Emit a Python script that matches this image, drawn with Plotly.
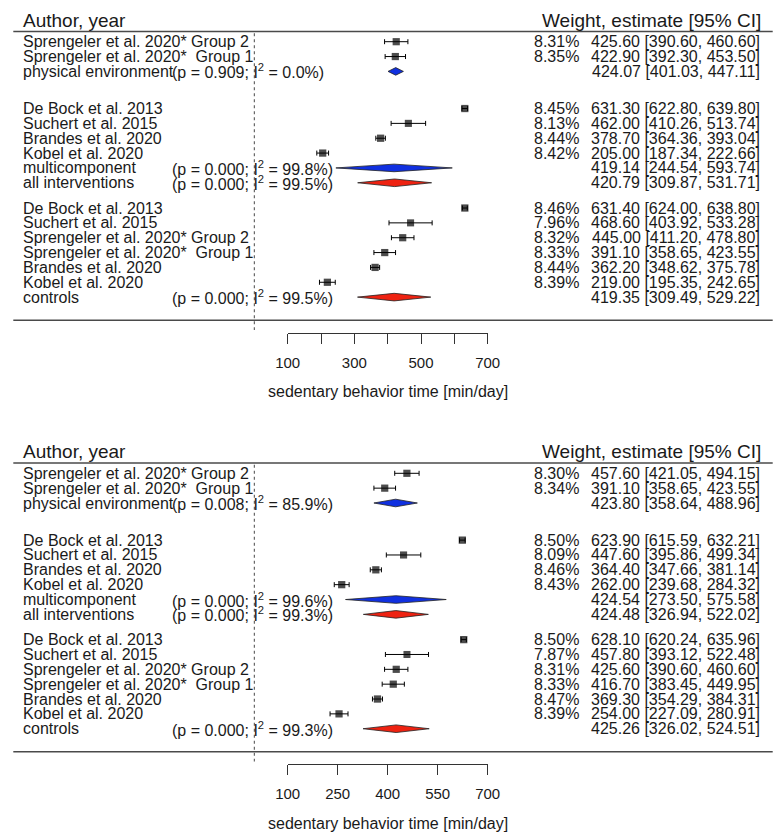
import plotly.graph_objects as go

W, H = 782, 838

# ---------------- data ----------------
labels_phys = ["Sprengeler et al. 2020* Group 2", "Sprengeler et al. 2020*\u00a0 Group 1"]
labels_multi = ["De Bock et al. 2013", "Suchert et al. 2015", "Brandes et al. 2020", "Kobel et al. 2020"]
labels_ctrl = ["De Bock et al. 2013", "Suchert et al. 2015", "Sprengeler et al. 2020* Group 2",
               "Sprengeler et al. 2020*\u00a0 Group 1", "Brandes et al. 2020", "Kobel et al. 2020"]
summary_labels = ["physical environment", "multicomponent", "all interventions", "controls"]

# Panel 1 (top)
p1_phys_w = [8.31, 8.35]
p1_phys_est = [425.60, 422.90]
p1_phys_lo = [390.60, 392.30]
p1_phys_hi = [460.60, 453.50]
p1_multi_w = [8.45, 8.13, 8.44, 8.42]
p1_multi_est = [631.30, 462.00, 378.70, 205.00]
p1_multi_lo = [622.80, 410.26, 364.36, 187.34]
p1_multi_hi = [639.80, 513.74, 393.04, 222.66]
p1_ctrl_w = [8.46, 7.96, 8.32, 8.33, 8.44, 8.39]
p1_ctrl_est = [631.40, 468.60, 445.00, 391.10, 362.20, 219.00]
p1_ctrl_lo = [624.00, 403.92, 411.20, 358.65, 348.62, 195.35]
p1_ctrl_hi = [638.80, 533.28, 478.80, 423.55, 375.78, 242.65]
p1_sum_est = [424.07, 419.14, 420.79, 419.35]
p1_sum_lo = [401.03, 244.54, 309.87, 309.49]
p1_sum_hi = [447.11, 593.74, 531.71, 529.22]
p1_sum_p = ["0.909", "0.000", "0.000", "0.000"]
p1_sum_i2 = ["0.0", "99.8", "99.5", "99.5"]
p1_ticks = [100, 300, 500, 700]
p1_minor_ticks = [200, 400, 600]

# Panel 2 (bottom)
p2_phys_w = [8.30, 8.34]
p2_phys_est = [457.60, 391.10]
p2_phys_lo = [421.05, 358.65]
p2_phys_hi = [494.15, 423.55]
p2_multi_w = [8.50, 8.09, 8.46, 8.43]
p2_multi_est = [623.90, 447.60, 364.40, 262.00]
p2_multi_lo = [615.59, 395.86, 347.66, 239.68]
p2_multi_hi = [632.21, 499.34, 381.14, 284.32]
p2_ctrl_w = [8.50, 7.87, 8.31, 8.33, 8.47, 8.39]
p2_ctrl_est = [628.10, 457.80, 425.60, 416.70, 369.30, 254.00]
p2_ctrl_lo = [620.24, 393.12, 390.60, 383.45, 354.29, 227.09]
p2_ctrl_hi = [635.96, 522.48, 460.60, 449.95, 384.31, 280.91]
p2_sum_est = [423.80, 424.54, 424.48, 425.26]
p2_sum_lo = [358.64, 273.50, 326.94, 326.02]
p2_sum_hi = [488.96, 575.58, 522.02, 524.51]
p2_sum_p = ["0.008", "0.000", "0.000", "0.000"]
p2_sum_i2 = ["85.9", "99.6", "99.3", "99.3"]
p2_ticks = [100, 250, 400, 550, 700]
p2_minor_ticks = []

x_title = "sedentary behavior time [min/day]"

# ---------------- layout constants ----------------
FONT = "Liberation Sans, Arial, Helvetica, sans-serif"
TXT = "#1a1a1a"
OFF = 8                               # page offset of the figure (body margin)
ROW = 14.85
PX100, PX700 = 287.7, 487.7           # screen positions of 100 and 700
SCALE = (700 - 100) / (PX700 - PX100)


def x_of_px(px):
    return 100 + (px - PX100) * SCALE


fig = go.Figure()
annotations = []


def ann(text, xpx, ypx, anchor="left", size=16):
    annotations.append(dict(text=text, x=(xpx - OFF) / W, y=ypx, xref="paper", yref="y",
                            xanchor=anchor, yanchor="middle", showarrow=False,
                            borderpad=0, borderwidth=0,
                            font=dict(family=FONT, size=size, color=TXT)))


def hline(x0px, x1px, ypx, width=1.5, color="#4a4a4a"):
    fig.add_trace(go.Scatter(x=[x_of_px(x0px), x_of_px(x1px)], y=[ypx, ypx], mode="lines",
                             line=dict(color=color, width=width),
                             hoverinfo="skip", showlegend=False, xaxis="x", yaxis="y"))


def panel(P, xa, labels_groups, w_groups, est_groups, lo_groups, hi_groups,
          s_est, s_lo, s_hi, s_p, s_i2, ticks, minor_ticks, axis_name):
    group_start = [0.0, 4.5, 11.2]
    sum_rows = [2.0, 8.5, 9.5, 17.2]
    sum_colors = ["#1030e0", "#1030e0", "#ee2211", "#ee2211"]

    ann("Author, year", 23.3, P - 21.7, "left", 19)
    ann("Weight, estimate [95% CI]", 761, P - 21.7, "right", 19)
    hline(13.3, 772.7, P - 10.3)
    hline(13.3, 772.7, P + 278.5)

    fig.add_trace(go.Scatter(x=[0, 0], y=[P - 8.5, P + 288.3], mode="lines",
                             line=dict(color="#666666", width=1.2, dash="dot"),
                             hoverinfo="skip", showlegend=False, xaxis="x", yaxis="y"))

    for g in range(3):
        ys = [P + (group_start[g] + i) * ROW for i in range(len(est_groups[g]))]
        est, lo, hi, w = est_groups[g], lo_groups[g], hi_groups[g], w_groups[g]
        fig.add_trace(go.Scatter(
            x=est, y=ys, mode="markers", xaxis=xa, yaxis="y",
            marker=dict(symbol="square", size=[7.2 * (wi / 8.3) ** 0.5 for wi in w],
                        color="black", line=dict(width=0)),
            error_x=dict(type="data", symmetric=False,
                         array=[h - e for h, e in zip(hi, est)],
                         arrayminus=[e - l for e, l in zip(est, lo)],
                         color="black", thickness=1, width=2.5),
            hoverinfo="skip", showlegend=False, cliponaxis=False))
        for lab, wi, e, l, h, y in zip(labels_groups[g], w, est, lo, hi, ys):
            ann(lab, 23.3, y)
            ann(f"{wi:.2f}%", 579, y, "right")
            ann(f"{e:.2f} [{l:.2f}, {h:.2f}]", 760, y, "right")

    for k in range(4):
        y = P + sum_rows[k] * ROW
        hh = 3.8
        fig.add_trace(go.Scatter(
            x=[s_lo[k], s_est[k], s_hi[k], s_est[k], s_lo[k]],
            y=[y, y - hh, y, y + hh, y], mode="lines", fill="toself",
            fillcolor=sum_colors[k], line=dict(color="#222222", width=0.8),
            xaxis=xa, yaxis="y", hoverinfo="skip", showlegend=False))
        ann(summary_labels[k], 23.3, y)
        ann(f"(p = {s_p[k]}; I<sup>2</sup> = {s_i2[k]}%)", 171.5, y)
        ann(f"{s_est[k]:.2f} [{s_lo[k]:.2f}, {s_hi[k]:.2f}]", 760, y, "right")

    ann(x_title, (PX100 + PX700) / 2, P + 350, "center", 16)

    axis = dict(
        domain=[(PX100 - OFF) / W, (PX700 - OFF) / W], range=[100, 700], anchor="free",
        position=1 - (P + 291 - OFF) / H, showline=True, linecolor="#333333", linewidth=1,
        ticks="outside", ticklen=10, tickwidth=1, tickcolor="#333333",
        tickmode="array", tickvals=ticks, ticktext=[str(t) for t in ticks],
        tickfont=dict(family=FONT, size=15, color=TXT), ticklabelstandoff=6,
        showgrid=False, zeroline=False, fixedrange=True, automargin=False)
    if minor_ticks:
        axis["minor"] = dict(tickvals=minor_ticks, ticks="outside", ticklen=10,
                             tickwidth=1, tickcolor="#333333", showgrid=False)
    fig.update_layout(**{axis_name: axis})


P1, P2 = 41.7, 473.3
panel(P1, "x2", [labels_phys, labels_multi, labels_ctrl],
      [p1_phys_w, p1_multi_w, p1_ctrl_w], [p1_phys_est, p1_multi_est, p1_ctrl_est],
      [p1_phys_lo, p1_multi_lo, p1_ctrl_lo], [p1_phys_hi, p1_multi_hi, p1_ctrl_hi],
      p1_sum_est, p1_sum_lo, p1_sum_hi, p1_sum_p, p1_sum_i2, p1_ticks, p1_minor_ticks, "xaxis2")
panel(P2, "x3", [labels_phys, labels_multi, labels_ctrl],
      [p2_phys_w, p2_multi_w, p2_ctrl_w], [p2_phys_est, p2_multi_est, p2_ctrl_est],
      [p2_phys_lo, p2_multi_lo, p2_ctrl_lo], [p2_phys_hi, p2_multi_hi, p2_ctrl_hi],
      p2_sum_est, p2_sum_lo, p2_sum_hi, p2_sum_p, p2_sum_i2, p2_ticks, p2_minor_ticks, "xaxis3")

fig.update_layout(
    template="none",
    width=W, height=H, margin=dict(l=0, r=0, t=0, b=0, pad=0, autoexpand=False),
    paper_bgcolor="white", plot_bgcolor="rgba(0,0,0,0)",
    xaxis=dict(range=[x_of_px(OFF), x_of_px(OFF + W)], domain=[0, 1], visible=False,
               fixedrange=True, automargin=False),
    yaxis=dict(range=[OFF + H, OFF], domain=[0, 1], visible=False, fixedrange=True,
               automargin=False),
    annotations=annotations, showlegend=False,
    font=dict(family=FONT, color=TXT),
)

fig.write_html("out.html")
